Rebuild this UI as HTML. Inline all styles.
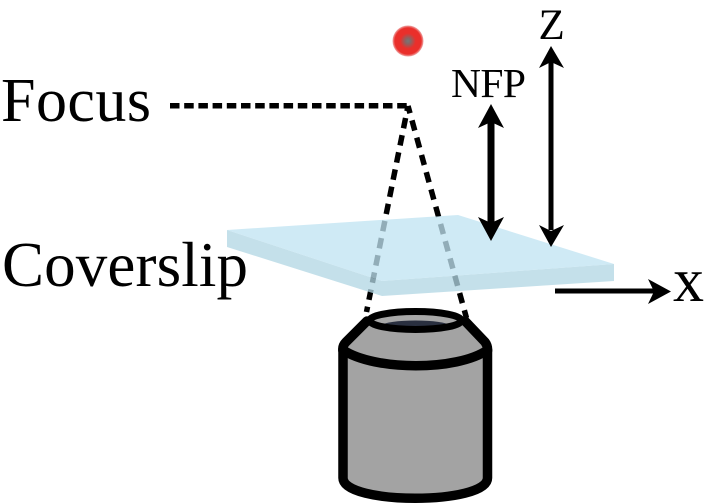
<!DOCTYPE html>
<html><head><meta charset="utf-8"><style>
html,body{margin:0;padding:0;background:#fff}
svg{display:block}
text{font-family:"Liberation Serif",serif;fill:#000}
</style></head><body>
<svg width="705" height="503" viewBox="0 0 705 503" xmlns="http://www.w3.org/2000/svg">
<defs>
<radialGradient id="g"><stop offset="0" stop-color="#777"/><stop offset=".18" stop-color="#8a6464"/><stop offset=".5" stop-color="#ea2f2b"/><stop offset=".85" stop-color="#ea2f2b"/><stop offset="1" stop-color="#eeaaaa"/></radialGradient>
</defs>
<rect width="705" height="503" fill="#fff"/>
<circle cx="408" cy="41" r="15.500" fill="url(#g)"/>
<text x="1" y="121" font-size="62" textLength="150" lengthAdjust="spacing">Focus</text>
<text x="2" y="286" font-size="63" textLength="246" lengthAdjust="spacing">Coverslip</text>
<text x="451" y="97" font-size="41.500" textLength="75" lengthAdjust="spacing">NFP</text>
<text x="538.500" y="39" font-size="43">Z</text>
<text x="673" y="301" font-size="62">x</text>
<!-- dashed lines behind coverslip -->
<g fill="none" stroke="#000" stroke-width="5.500">
<path d="M170 105.700H408" stroke-dasharray="9.500 4.700"/>
<path d="M408 106L366.500 312" stroke-dasharray="10.500 7" stroke-dashoffset="5.250"/>
<path d="M408 106L466.500 318" stroke-dasharray="10.500 7.400" stroke-dashoffset="2.950"/>
</g>
<!-- coverslip -->
<polygon points="227,230 382,281 614,264 614,281 382,296 227,247" fill="rgb(178,214,228)" fill-opacity=".76"/>
<polygon points="227,230 458,215 614,264 382,281" fill="rgb(192,228,242)" fill-opacity=".76"/>
<!-- arrows -->
<g fill="#000" stroke="#000">
<path d="M491 120V226" stroke-width="7" fill="none"/>
<polygon points="491,104 478,128 491,122 504,128" stroke="none"/>
<polygon points="491,241 478,217 491,223 504,217" stroke="none"/>
<path d="M551 62V230" stroke-width="5" fill="none"/>
<polygon points="551,46 539,68 551,62 564,68" stroke="none"/>
<polygon points="551,247 539,225 551,231 564,225" stroke="none"/>
<path d="M555 291H655" stroke-width="5" fill="none"/>
<polygon points="671,291.500 648,279 654,291.500 648,304" stroke="none"/>
</g>
<!-- objective -->
<path d="M343 348L365 322C380 332 450 332 468 322L487 348V480C487 505 343 505 343 480Z" fill="#a3a3a3"/>
<ellipse cx="415.500" cy="321" rx="46" ry="9" fill="#a8a8a8"/>
<ellipse cx="415.500" cy="325" rx="32" ry="4.500" fill="#2a3040"/>
<g fill="none" stroke="#000" stroke-linejoin="round" stroke-linecap="round">
<ellipse cx="415.500" cy="320.500" rx="46" ry="9" stroke-width="7"/>
<g stroke-width="9.500">
<path d="M367 321L346 342Q342 346 343 351M465 321L485 342Q488 346 487.500 351"/>
<path d="M343 351V478C343 505 487.500 505 487.500 478V351"/>
<path d="M343 350C375 371 457 371 487.500 350"/>
</g>
</g>
</svg>
</body></html>
